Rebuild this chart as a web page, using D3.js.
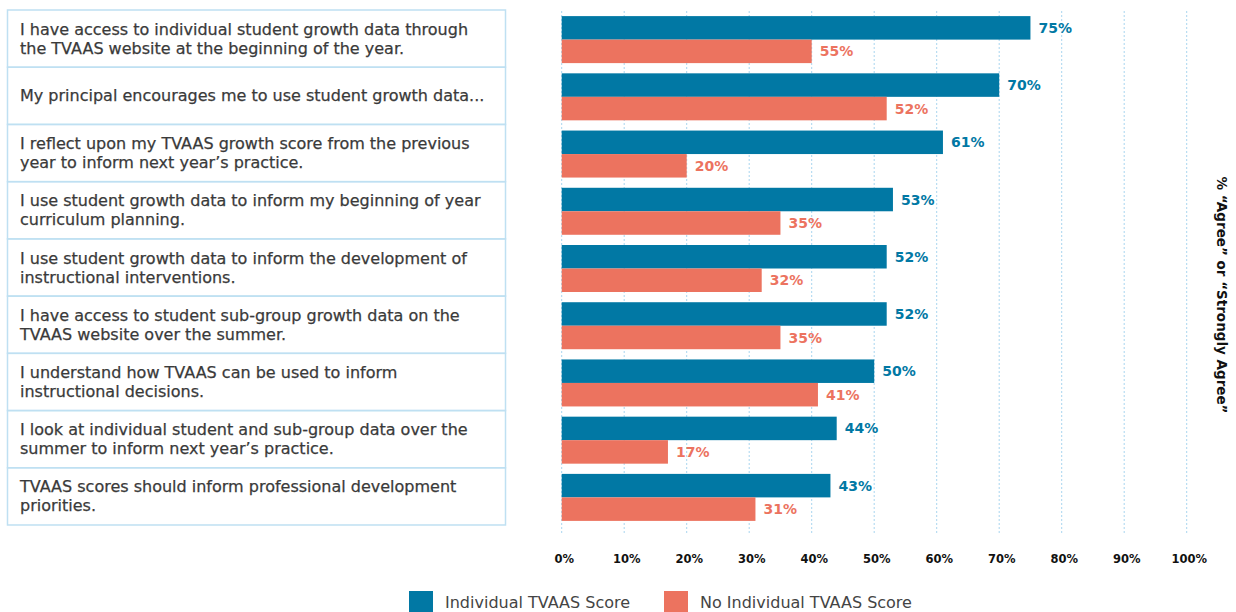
<!DOCTYPE html>
<html>
<head>
    <meta charset="utf-8">
    <title>TVAAS Survey</title>
    <script type="text/javascript" src="https://cdn.jsdelivr.net/npm/d3@7"></script>
    <style>
        body { margin: 0; background: #fff; }
        .row-label { font-family: "DejaVu Sans", sans-serif; font-size: 16px; fill: #3a3a3a; stroke: #3a3a3a; stroke-width: 0.25px; }
        .val { font-family: "DejaVu Sans", sans-serif; font-weight: bold; font-size: 14px; }
        .x-axis text { font-family: "DejaVu Sans", sans-serif; font-weight: bold; font-size: 11.5px; fill: #111; }
        .grid-line { stroke: #a9d5ef; stroke-width: 1; stroke-dasharray: 2,2; }
        .legend text { font-family: "DejaVu Sans", sans-serif; font-size: 16px; fill: #444; }
    </style>
</head>

<body>

<script type="text/javascript">
    var categories = [
        ["I have access to individual student growth data through", "the TVAAS website at the beginning of the year."],
        ["My principal encourages me to use student growth data..."],
        ["I reflect upon my TVAAS growth score from the previous", "year to inform next year\u2019s practice."],
        ["I use student growth data to inform my  beginning of year", "curriculum planning."],
        ["I use student growth data to inform the development of", "instructional interventions."],
        ["I have access to student sub-group growth data on the", "TVAAS website over the summer."],
        ["I understand how TVAAS can be used to inform", "instructional decisions."],
        ["I look at individual student and sub-group data over the", "summer to inform next year\u2019s practice."],
        ["TVAAS scores should inform professional development", "priorities."]
    ];
    var individual = [75, 70, 61, 53, 52, 52, 50, 44, 43];
    var individualLabels = ["75%", "70%", "61%", "53%", "52%", "52%", "50%", "44%", "43%"];
    // bar lengths as drawn; the first label in the source reads 55% though its bar stops at 40%
    var noScore = [40, 52, 20, 35, 32, 35, 41, 17, 31];
    var noScoreLabels = ["55%", "52%", "20%", "35%", "32%", "35%", "41%", "17%", "31%"];
    var tickValues = [0, 10, 20, 30, 40, 50, 60, 70, 80, 90, 100];
    var seriesNames = ["Individual TVAAS Score", "No Individual TVAAS Score"];

    var width = 1236, height = 612;
    var blue = "#0178a4", orange = "#ec735f";
    var barH = 23.5;

    var svg = d3.select("body").append("svg")
            .attr("width", width)
            .attr("height", height);

    var x = d3.scaleLinear().domain([0, 100]).range([561.7, 1186.7]);
    var y = d3.scaleBand().domain(d3.range(categories.length)).range([10, 525]);

    // grid
    svg.append("g").selectAll("line")
        .data(tickValues)
        .enter().append("line")
        .classed("grid-line", true)
        .attr("x1", function(d){ return x(d); })
        .attr("x2", function(d){ return x(d); })
        .attr("y1", 11)
        .attr("y2", 533);

    var xAxis = d3.axisBottom(x)
        .tickValues(tickValues)
        .tickFormat(function(d){ return d + "%"; })
        .tickSize(0)
        .tickPadding(0);

    var gx = svg.append("g")
        .classed("x-axis", true)
        .attr("transform", "translate(2,555)")
        .call(xAxis);
    gx.select(".domain").remove();
    gx.selectAll("text").attr("dy", "0.35em").attr("y", 4);

    // left label box
    var rows = svg.append("g").selectAll("g")
        .data(categories)
        .enter().append("g")
        .attr("transform", function(d, i){ return "translate(0," + y(i) + ")"; });

    rows.append("rect")
        .attr("x", 7.5)
        .attr("y", 0)
        .attr("width", 498)
        .attr("height", y.bandwidth())
        .attr("fill", "none")
        .attr("stroke", "#bfe0f2")
        .attr("stroke-width", 1.5);

    rows.each(function(lines){
        var g = d3.select(this);
        var mid = y.bandwidth() / 2;
        var start = mid - (lines.length - 1) * 9.5;
        lines.forEach(function(t, k){
            g.append("text")
                .classed("row-label", true)
                .attr("x", 20)
                .attr("y", start + k * 19)
                .attr("dy", "0.35em")
                .text(t);
        });
    });

    // bars
    var bars = svg.append("g");
    bars.selectAll("rect.ind")
        .data(individual)
        .enter().append("rect")
        .attr("class", "ind")
        .attr("x", x(0))
        .attr("y", function(d, i){ return y(i) + y.bandwidth() / 2 - barH + 1; })
        .attr("width", function(d){ return x(d) - x(0); })
        .attr("height", barH)
        .attr("fill", blue);

    bars.selectAll("rect.no")
        .data(noScore)
        .enter().append("rect")
        .attr("class", "no")
        .attr("x", x(0))
        .attr("y", function(d, i){ return y(i) + y.bandwidth() / 2 + 1; })
        .attr("width", function(d){ return x(d) - x(0); })
        .attr("height", barH)
        .attr("fill", orange);

    bars.selectAll("text.ind")
        .data(individual)
        .enter().append("text")
        .attr("class", "val ind")
        .attr("x", function(d){ return x(d) + 8; })
        .attr("y", function(d, i){ return y(i) + y.bandwidth() / 2 - barH / 2 + 1; })
        .attr("dy", "0.36em")
        .attr("fill", blue)
        .text(function(d, i){ return individualLabels[i]; });

    bars.selectAll("text.no")
        .data(noScore)
        .enter().append("text")
        .attr("class", "val no")
        .attr("x", function(d){ return x(d) + 8; })
        .attr("y", function(d, i){ return y(i) + y.bandwidth() / 2 + barH / 2 + 1; })
        .attr("dy", "0.36em")
        .attr("fill", orange)
        .text(function(d, i){ return noScoreLabels[i]; });

    // right title
    svg.append("text")
        .attr("transform", "translate(1222,295) rotate(90)")
        .attr("text-anchor", "middle")
        .attr("dy", "0.35em")
        .style("font-family", "'DejaVu Sans', sans-serif")
        .style("font-weight", "bold")
        .style("font-size", "13.5px")
        .attr("fill", "#111")
        .text("% \u201CAgree\u201D or \u201CStrongly Agree\u201D");

    // legend
    var legend = svg.append("g").classed("legend", true);
    var legendX = [409, 664];
    var legendColors = [blue, orange];
    seriesNames.forEach(function(name, i){
        legend.append("rect")
            .attr("x", legendX[i])
            .attr("y", 591)
            .attr("width", 24)
            .attr("height", 24)
            .attr("fill", legendColors[i]);
        legend.append("text")
            .attr("x", legendX[i] + 36)
            .attr("y", 602)
            .attr("dy", "0.35em")
            .text(name);
    });
</script>

</body>

</html>
